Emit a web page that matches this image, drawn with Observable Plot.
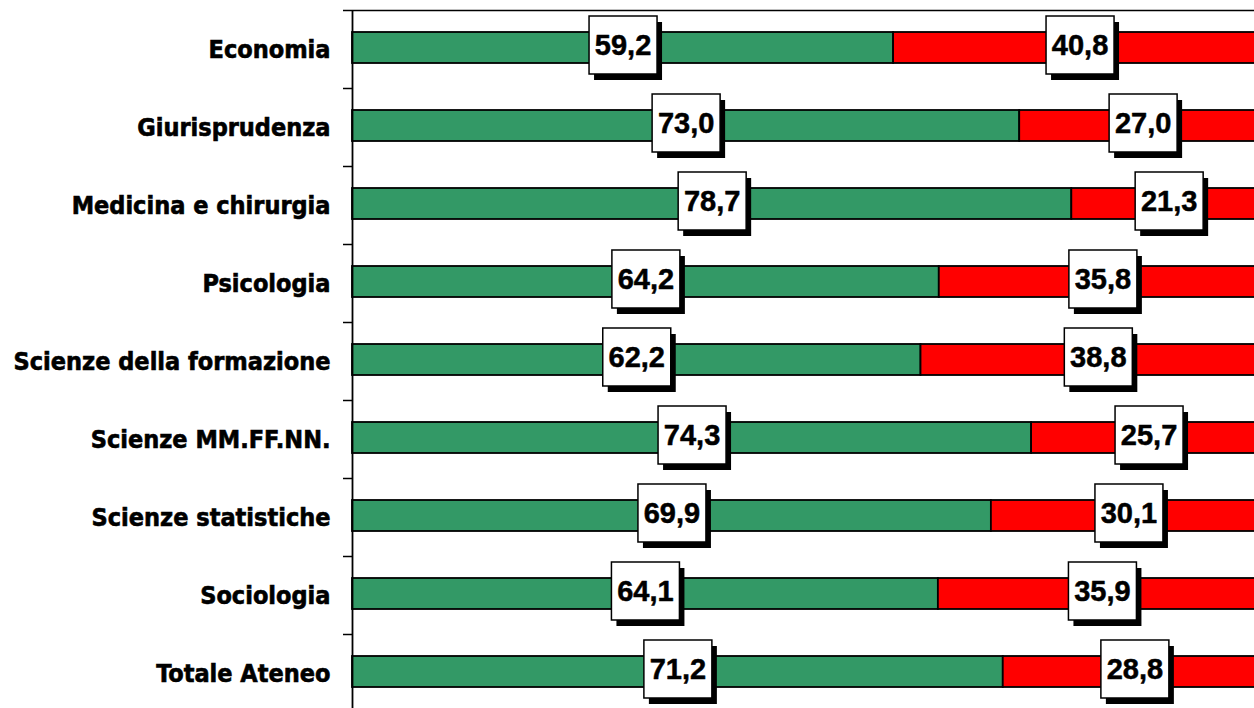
<!DOCTYPE html>
<html>
<head>
<meta charset="utf-8">
<script src="https://cdn.jsdelivr.net/npm/d3@7"></script>
<script src="https://cdn.jsdelivr.net/npm/@observablehq/plot@0.6"></script>
<style>
  html, body { margin: 0; padding: 0; background: white; overflow: hidden; }
  .cat text { font-family: "DejaVu Sans Condensed", "DejaVu Sans", sans-serif; font-stretch: condensed; font-weight: bold; stroke: black; stroke-width: 0.6px; }
</style>
</head>
<body>
<div id="chart"></div>
<script>
const categories = [
  "Economia",
  "Giurisprudenza",
  "Medicina e chirurgia",
  "Psicologia",
  "Scienze della formazione",
  "Scienze MM.FF.NN.",
  "Scienze statistiche",
  "Sociologia",
  "Totale Ateneo"
];
const green = [59.2, 73.0, 78.7, 64.2, 62.2, 74.3, 69.9, 64.1, 71.2];
const red = [40.8, 27.0, 21.3, 35.8, 38.8, 25.7, 30.1, 35.9, 28.8];

const rows = categories.map((c, i) => ({cat: c, i, g: green[i], r: red[i]}));
const fmt = v => v.toFixed(1).replace(".", ",");

const boxSymbol = { draw(ctx) { ctx.rect(-34, -29, 68, 58); } };

const labels = rows.flatMap(d => [
  {x: d.g / 2, y: d.i + 0.5, v: d.g},
  {x: d.g + d.r / 2, y: d.i + 0.5, v: d.r}
]);

const chart = Plot.plot({
  width: 1254,
  height: 708,
  marginLeft: 352,
  marginTop: 10,
  marginRight: 0,
  marginBottom: 0,
  style: {overflow: "hidden", background: "white"},
  x: {domain: [0, 100], range: [352, 1266], axis: null},
  y: {domain: [0, 9], range: [10, 712], axis: null},
  marks: [
    Plot.rect(rows, {x1: 0, x2: "g", y1: "i", y2: d => d.i + 1, insetTop: 22, insetBottom: 25,
      fill: "#339966", stroke: "black", strokeWidth: 1.8}),
    Plot.rect(rows, {x1: "g", x2: d => d.g + d.r, y1: "i", y2: d => d.i + 1, insetTop: 22, insetBottom: 25,
      fill: "#ff0000", stroke: "black", strokeWidth: 1.8}),
    Plot.ruleY([0], {stroke: "black", strokeWidth: 1.5}),
    Plot.ruleX([0], {stroke: "black", strokeWidth: 1.8}),
    Plot.axisY(d3.range(0, 10), {anchor: "left", tickSize: 9, tickFormat: () => "", stroke: "black", strokeWidth: 1.5}),
    Plot.axisY(d3.range(0, 9).map(i => i + 0.5), {anchor: "left", tickSize: 0, tickPadding: 22,
      tickFormat: t => categories[Math.floor(t)], fontSize: 25, fill: "black", className: "cat"}),
    Plot.dot(labels, {x: "x", y: "y", symbol: boxSymbol, fill: "black", stroke: "none", dx: 5, dy: 1.5}),
    Plot.dot(labels, {x: "x", y: "y", symbol: boxSymbol, fill: "white", stroke: "black", strokeWidth: 1.5, dy: -4.5}),
    Plot.text(labels, {x: "x", y: "y", text: d => fmt(d.v), dy: -4, fontSize: 29, fontWeight: "bold",
      fontFamily: "'Liberation Sans', Arial, sans-serif", fill: "black", stroke: "black", strokeWidth: 0.5})
  ]
});
document.getElementById("chart").appendChild(chart);
</script>
</body>
</html>
